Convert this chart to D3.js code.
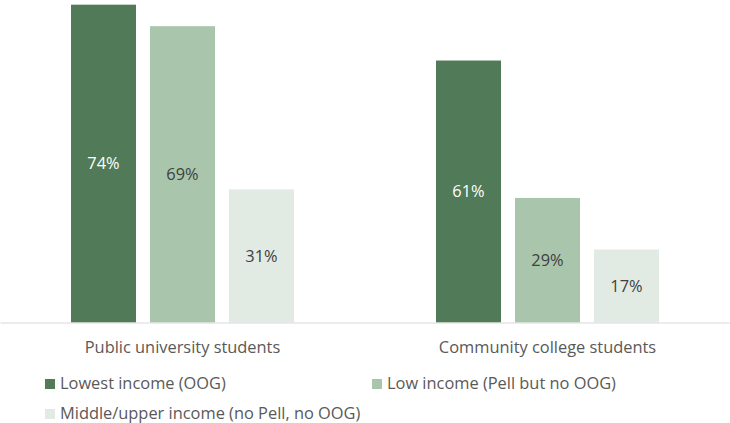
<!DOCTYPE html>
<html>
<head>
<meta charset="utf-8">
<script src="https://cdn.jsdelivr.net/npm/d3@7"></script>
<style>
  html, body { margin: 0; padding: 0; background: #fff; }
  svg { display: block; font-family: "Open Sans", Lato, sans-serif; }
</style>
</head>
<body>
<svg id="chart" width="730" height="423"></svg>
<script>
const categories = ["Public university students", "Community college students"];
const seriesNames = ["Lowest income (OOG)", "Low income (Pell but no OOG)", "Middle/upper income (no Pell, no OOG)"];
const lowestIncome = [74, 61];
const lowIncome = [69, 29];
const middleUpperIncome = [31, 17];
const seriesColors = ["#507a58", "#a9c6ad", "#e1ebe3"];
const labelColors = ["#ffffff", "#404040", "#404040"];

const seriesValues = [lowestIncome, lowIncome, middleUpperIncome];

const svg = d3.select("#chart");
const W = 730;
const baseY = 322.5;
const topY = 4.7;
const FONT = "'Open Sans', Lato, sans-serif";
const FS = 16.4;

// outer band per category, inner band per series
const x0 = d3.scaleBand().domain(categories).range([0, W]);
const barW = 65, gap = 14;
const groupW = 3 * barW + 2 * gap;
const x1 = d3.scaleBand().domain(d3.range(3)).range([0, groupW])
  .paddingInner(gap / (barW + gap)).paddingOuter(0);

const y = d3.scaleLinear().domain([0, 74]).range([baseY, topY]);

const groups = svg.selectAll("g.grp")
  .data(categories)
  .join("g")
  .attr("class", "grp")
  .attr("transform", d => `translate(${x0(d) + x0.bandwidth() / 2 - groupW / 2},0)`);

groups.each(function(cat, ci) {
  const g = d3.select(this);
  seriesValues.forEach((vals, si) => {
    const v = vals[ci];
    g.append("rect")
      .attr("x", x1(si))
      .attr("y", y(v))
      .attr("width", x1.bandwidth())
      .attr("height", baseY - y(v))
      .attr("fill", seriesColors[si]);
    g.append("text")
      .attr("x", x1(si) + x1.bandwidth() / 2)
      .attr("y", (y(v) + baseY) / 2)
      .attr("dy", "0.35em")
      .attr("text-anchor", "middle")
      .attr("font-size", FS)
      .attr("fill", labelColors[si])
      .text(v + "%");
  });
});

// category axis
const axis = d3.axisBottom(x0).tickSize(0).tickPadding(19);
const ax = svg.append("g").attr("transform", `translate(0,${baseY})`).call(axis);
ax.select(".domain").attr("stroke", "#d9d9d9").attr("stroke-width", 1);
ax.selectAll("text").attr("font-size", FS).attr("fill", "#595959").attr("font-family", FONT);

// legend
const legendPos = [[45, 384], [372, 384], [45, 414]];
const legend = svg.selectAll("g.leg")
  .data(seriesNames)
  .join("g")
  .attr("class", "leg")
  .attr("transform", (d, i) => `translate(${legendPos[i][0]},${legendPos[i][1]})`);
legend.append("rect")
  .attr("x", 0).attr("y", -5).attr("width", 10).attr("height", 10)
  .attr("fill", (d, i) => seriesColors[i]);
legend.append("text")
  .attr("x", 15).attr("dy", "0.3em")
  .attr("font-size", FS).attr("fill", "#595959")
  .text(d => d);
</script>
</body>
</html>
